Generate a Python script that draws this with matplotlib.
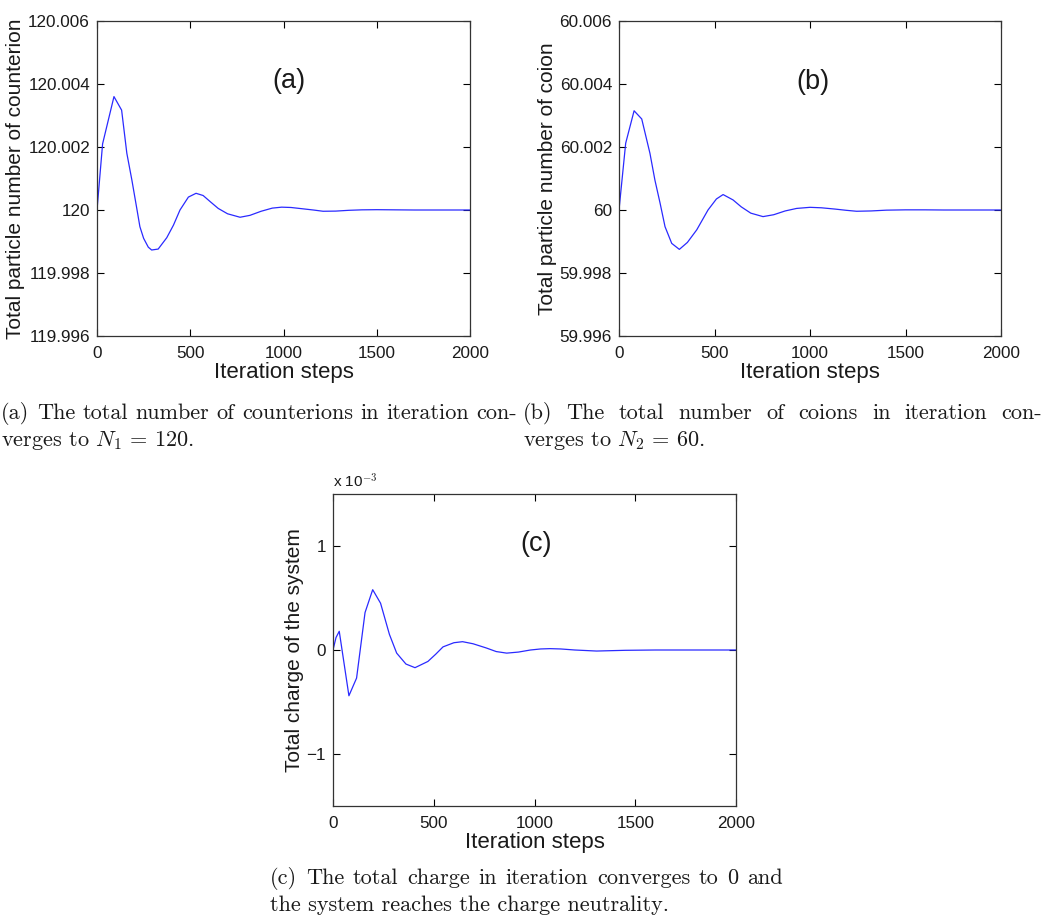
import matplotlib
matplotlib.use("Agg")
import matplotlib.pyplot as plt
import numpy as np

plt.rcParams['mathtext.fontset'] = 'cm'

# ---------------- data ----------------
steps_a = [0, 30, 91, 132, 160, 187, 213, 230, 250, 275, 293, 328, 374, 410, 445, 490,
           531, 569, 610, 650, 700, 767, 820, 880, 940, 990, 1040, 1100, 1160, 1212,
           1280, 1350, 1420, 1500, 1600, 1700, 2000]
counterion = [120.0, 120.0021, 120.0036, 120.00317, 120.0018, 120.00095, 120.00006,
              119.99947, 119.9991, 119.99882, 119.99873, 119.99876, 119.99912,
              119.99952, 120.0, 120.00041, 120.00053, 120.00046, 120.00025,
              120.00005, 119.99988, 119.99977, 119.99983, 119.99996, 120.00006,
              120.00009, 120.00008, 120.00004, 120.0, 119.99996, 119.999965,
              119.99999, 120.000005, 120.00001, 120.000005, 120.0, 120.0]

steps_b = [0, 35, 79, 119, 162, 188, 215, 241, 276, 316, 358, 407, 466, 510, 545, 597,
           640, 690, 754, 810, 870, 930, 1000, 1060, 1130, 1190, 1244, 1320, 1400,
           1500, 1600, 1700, 2000]
coion = [60.0, 60.00212, 60.00315, 60.00289, 60.0018, 60.00095, 60.00022, 59.99947,
         59.99894, 59.99875, 59.99897, 59.99937, 60.0, 60.00035, 60.00049, 60.00032,
         60.0001, 59.9999, 59.99979, 59.99985, 59.99997, 60.00005, 60.000085,
         60.00007, 60.00003, 59.99999, 59.99996, 59.99997, 59.999995, 60.000005,
         60.000005, 60.0, 60.0]

steps_c = [0, 15, 31, 79, 117, 159, 197, 236, 280, 316, 362, 407, 471, 510, 546, 600,
           643, 695, 760, 810, 862, 920, 980, 1030, 1077, 1130, 1200, 1308, 1450,
           1600, 2000]
charge = [0.0, 0.12e-3, 0.18e-3, -0.44e-3, -0.27e-3, 0.36e-3, 0.58e-3, 0.45e-3,
          0.15e-3, -0.03e-3, -0.135e-3, -0.17e-3, -0.11e-3, -0.04e-3, 0.03e-3,
          0.07e-3, 0.08e-3, 0.06e-3, 0.02e-3, -0.015e-3, -0.03e-3, -0.02e-3, 0.0,
          0.01e-3, 0.013e-3, 0.01e-3, 0.0, -0.01e-3, -0.003e-3, 0.0, 0.0]

xticks = [0, 500, 1000, 1500, 2000]
yticks_a = [119.996, 119.998, 120.0, 120.002, 120.004, 120.006]
yticklabels_a = ['119.996', '119.998', '120', '120.002', '120.004', '120.006']
yticks_b = [59.996, 59.998, 60.0, 60.002, 60.004, 60.006]
yticklabels_b = ['59.996', '59.998', '60', '60.002', '60.004', '60.006']
yticks_c = [-1, 0, 1]
yticklabels_c = ['\u22121', '0', '1']

W, H = 1050, 921
fig = plt.figure(figsize=(W / 100, H / 100), dpi=100)

SANS = 'Liberation Sans'
LINE = '#2a2aff'
TXT = '#1a1a1a'


def make_ax(l, r, t, b):
    return fig.add_axes([l / W, 1 - b / H, (r - l) / W, (b - t) / H])


def style(ax, ylabel, panel, px, py):
    ax.set_xlim(0, 2000)
    ax.set_xticks(xticks)
    ax.set_xticklabels([str(v) for v in xticks])
    ax.tick_params(direction='in', length=5, width=0.8, top=True, right=True,
                   labelsize=12.3, pad=5, labelcolor=TXT)
    ax.tick_params(axis='x', pad=7)
    for lab in ax.get_xticklabels() + ax.get_yticklabels():
        lab.set_fontfamily(SANS)
    for s in ax.spines.values():
        s.set_linewidth(0.9)
        s.set_color('#333333')
    ax.set_xlabel('Iteration steps', fontfamily=SANS, fontsize=16, labelpad=1,
                  color=TXT)
    ax.set_ylabel(ylabel, fontfamily=SANS, fontsize=15, labelpad=2, color=TXT)
    ax.text(px, py, panel, transform=ax.transAxes, ha='center', va='center',
            fontfamily=SANS, fontsize=19.5, color=TXT)


# (a)
ax1 = make_ax(97, 470, 21, 336)
ax1.plot(steps_a, counterion, color=LINE, lw=0.9)
ax1.set_ylim(119.996, 120.006)
ax1.set_yticks(yticks_a)
ax1.set_yticklabels(yticklabels_a)
style(ax1, 'Total particle number of counterion', '(a)', 0.515, 0.81)

# (b)
ax2 = make_ax(619, 1001, 21, 336)
ax2.plot(steps_b, coion, color=LINE, lw=0.9)
ax2.set_ylim(59.996, 60.006)
ax2.set_yticks(yticks_b)
ax2.set_yticklabels(yticklabels_b)
style(ax2, 'Total particle number of coion', '(b)', 0.508, 0.805)

# (c)
ax3 = make_ax(333, 736, 494, 806)
ax3.plot(steps_c, np.array(charge) * 1e3, color=LINE, lw=0.9)
ax3.set_ylim(-1.5, 1.5)
ax3.set_yticks(yticks_c)
ax3.set_yticklabels(yticklabels_c)
style(ax3, 'Total charge of the system', '(c)', 0.504, 0.84)
ax3.text(0.0, 1.012, r'x 10$^{-3}$', transform=ax3.transAxes, ha='left', va='bottom',
         fontfamily=SANS, fontsize=11, color=TXT)

# ---------------- captions ----------------
SERIF = 'cmr10'
CAP = 16
fig.canvas.draw()
renderer = fig.canvas.get_renderer()


def justified(words, x0, x1, y):
    texts = [fig.text(0, 1 - y / H, w, fontfamily=SERIF, fontsize=CAP, va='baseline',
                      color=TXT)
             for w in words]
    widths = [t.get_window_extent(renderer).width for t in texts]
    gap = (x1 - x0 - sum(widths)) / (len(words) - 1)
    x = x0
    for t, w in zip(texts, widths):
        t.set_x(x / W)
        x += w + gap


def plain(s, x, y):
    fig.text(x / W, 1 - y / H, s, fontfamily=SERIF, fontsize=CAP, va='baseline',
             color=TXT)


justified('(a) The total number of counterions in iteration con-'.split(), 1, 517, 419)
plain(r'verges to $N_1\,=\,120$.', 1, 446)
justified('(b) The total number of coions in iteration con-'.split(), 523, 1042, 419)
plain(r'verges to $N_2\,=\,60$.', 523, 446)
justified('(c) The total charge in iteration converges to 0 and'.split(), 270, 783, 884)
plain('the system reaches the charge neutrality.', 270, 911)

fig.savefig('out.png', dpi=100)
